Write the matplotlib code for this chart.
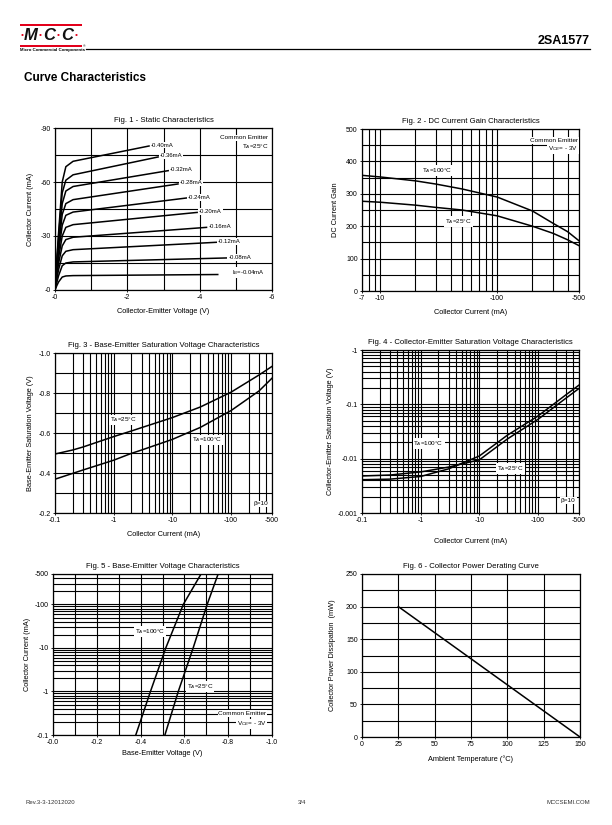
import numpy as np
import matplotlib.pyplot as plt
from matplotlib.patches import Rectangle
from matplotlib.ticker import FixedLocator, FixedFormatter, NullFormatter

plt.rcParams['font.family'] = ['Liberation Sans', 'DejaVu Sans']
plt.rcParams['mathtext.fontset'] = 'custom'
plt.rcParams['mathtext.rm'] = 'Liberation Sans'
plt.rcParams['mathtext.it'] = 'Liberation Sans:italic'
plt.rcParams['mathtext.bf'] = 'Liberation Sans:bold'

# ---- Fig. 1 - static characteristics (magnitudes, V and mA) ----
fig1_ib = ["-0.40mA", "-0.36mA", "-0.32mA", "-0.28mA", "-0.24mA",
           "-0.20mA", "-0.16mA", "-0.12mA", "-0.08mA", "I$_B$=-0.04mA"]
fig1_vce = [0, 0.05, 0.1, 0.2, 0.3, 0.5]
fig1_vend = [2.60, 2.85, 3.13, 3.40, 3.63, 3.93, 4.19, 4.46, 4.74, 4.50]
fig1_ic = [
    [0, 17, 32, 60, 68.5, 71.5, 80.0],
    [0, 16, 30, 54, 61.0, 64.0, 73.9],
    [0, 14, 27, 48, 55.0, 57.5, 66.3],
    [0, 12.5, 24, 42, 48.0, 50.2, 58.9],
    [0, 11, 21, 36, 41.5, 43.3, 51.1],
    [0, 9.5, 18, 30, 34.8, 36.3, 43.1],
    [0, 8, 15, 24.5, 28.0, 29.3, 34.8],
    [0, 6, 11.5, 19, 21.5, 22.4, 26.5],
    [0, 4.2, 8, 13.5, 15.0, 15.6, 17.8],
    [0, 2.4, 4.5, 7.2, 7.8, 8.0, 8.6],
]
fig1_label_xy = [(2.65, 80.5), (2.9, 74.5), (3.18, 67), (3.45, 59.5), (3.68, 51.5),
                 (3.98, 43.5), (4.24, 35.3), (4.51, 27), (4.79, 18.2), (4.9, 9.8)]

# ---- Fig. 2 - DC current gain ----
fig2_ic = [7, 10, 20, 30, 50, 100, 200, 300, 400, 500]
fig2_hfe_100 = [357, 352, 340, 330, 315, 290, 247, 209, 183, 155]
fig2_hfe_25 = [277, 274, 265, 258, 250, 232, 200, 178, 158, 140]

# ---- Fig. 3 - VBE(sat) ----
fig3_ic = [0.1, 0.2, 0.3, 1, 2, 3, 10, 30, 100, 300, 500]
fig3_v_25 = [0.495, 0.515, 0.530, 0.582, 0.610, 0.627, 0.677, 0.730, 0.804, 0.890, 0.933]
fig3_v_100 = [0.369, 0.398, 0.415, 0.464, 0.498, 0.515, 0.568, 0.628, 0.712, 0.810, 0.874]

# ---- Fig. 4 - VCE(sat) ----
fig4_ic = [0.1, 0.3, 1, 3, 5, 10, 30, 100, 300, 500]
fig4_v_100 = [0.0041, 0.0042, 0.0047, 0.0065, 0.0082, 0.0112, 0.027, 0.061, 0.15, 0.226]
fig4_v_25 = [0.0048, 0.0050, 0.0057, 0.0070, 0.0080, 0.0095, 0.023, 0.053, 0.13, 0.196]

# ---- Fig. 5 - VBE vs IC ----
fig5_ic = [0.1, 1, 10, 100, 500]
fig5_v_100 = [0.378, 0.445, 0.515, 0.595, 0.676]
fig5_v_25 = [0.511, 0.572, 0.640, 0.704, 0.754]

# ---- Fig. 6 - power derating ----
fig6_ta = [25, 150]
fig6_pd = [200, 0]

W, H = 612, 825
fig = plt.figure(figsize=(W / 100, H / 100), dpi=100)

RED = '#e3001b'
GRID = dict(color='black', linewidth=0.8)
LW = 1.1
TFS, LFS, KFS, AFS = 5.6, 5.3, 5.0, 4.6


def page_axes():
    ax = fig.add_axes([0, 0, 1, 1])
    ax.set_xlim(0, W)
    ax.set_ylim(H, 0)
    ax.axis('off')
    return ax


def panel(l, r, t, b):
    ax = fig.add_axes([l / W, 1 - b / H, (r - l) / W, (b - t) / H])
    for s in ax.spines.values():
        s.set_linewidth(0.9)
    ax.tick_params(which='major', length=1.5, width=0.6, labelsize=KFS, pad=1.5)
    ax.tick_params(which='minor', length=0)
    ax.set_axisbelow(True)
    return ax


def note(ax, x, y, s, ha='left', fs=AFS, **kw):
    ax.text(x, y, s, ha=ha, va='center', fontsize=fs, zorder=5,
            bbox=dict(fc='white', ec='none', pad=0.6), **kw)


def log_grid(axis, lo, hi):
    ticks = []
    d = 10.0 ** np.floor(np.log10(lo))
    while d < hi:
        for m in range(1, 10):
            v = m * d
            if lo < v < hi:
                ticks.append(v)
        d *= 10
    axis.set_minor_locator(FixedLocator(ticks))
    axis.set_minor_formatter(NullFormatter())


pg = page_axes()

# header
pg.add_patch(Rectangle((20, 23.5), 62, 2.2, color=RED, lw=0))
pg.add_patch(Rectangle((20, 44.5), 62, 2.2, color=RED, lw=0))
for i, ch in enumerate("MCC"):
    pg.text(31 + 18 * i, 35.5, ch, ha='center', va='center', fontsize=12,
            fontweight='bold', fontstyle='italic', color='#111111')
for i in range(4):
    pg.text(22.5 + 18 * i, 35.5, "\u2022", ha='center', va='center', fontsize=6,
            color=RED)
pg.text(20, 50.5, "Micro Commercial Components", fontsize=3.2, fontweight='bold',
        va='center', ha='left')
pg.text(83, 46, "\u00ae", fontsize=2.5, va='center')
pg.plot([86, 590], [48.5, 48.5], color='black', lw=0.9)
pg.text(590, 46.5, "2SA1577", ha='right', va='bottom', fontsize=9, fontweight='bold')
pg.text(24, 78, "Curve Characteristics", ha='left', va='center', fontsize=8.5,
        fontweight='bold')

# footer
pg.text(25, 803, "Rev.3-3-12012020", fontsize=4.3, va='center', color='#333333')
pg.text(302, 803, "3/4", fontsize=4.3, va='center', ha='center', color='#333333')
pg.text(590, 803, "MCCSEMI.COM", fontsize=4.3, va='center', ha='right', color='#333333')

# ---------- Fig. 1 ----------
ax = panel(55, 272, 128, 290)
for lab, vend, ic, (lx, ly) in zip(fig1_ib, fig1_vend, fig1_ic, fig1_label_xy):
    ax.plot(fig1_vce + [vend], ic, color='black', lw=LW, solid_joinstyle='round')
    note(ax, lx, ly, lab, fs=4.3)
ax.set_xlim(0, 6)
ax.set_ylim(0, 90)
ax.set_xticks([0, 2, 4, 6])
ax.set_xticklabels(["-0", "-2", "-4", "-6"])
ax.set_yticks([0, 30, 60, 90])
ax.set_yticklabels(["-0", "-30", "-60", "-90"])
ax.xaxis.set_minor_locator(FixedLocator([1, 3, 5]))
ax.yaxis.set_minor_locator(FixedLocator([15, 45, 75]))
ax.grid(which='both', **GRID)
note(ax, 5.9, 84.5, "Common Emitter", ha='right')
note(ax, 5.9, 79.5, "T$_A$=25\u00b0C", ha='right')
ax.set_title("Fig. 1 - Static Characteristics", fontsize=TFS, pad=4.5)
ax.set_xlabel("Collector-Emitter Voltage (V)", fontsize=LFS, labelpad=5)
ax.set_ylabel("Collector Current (mA)", fontsize=LFS, labelpad=5)

# ---------- Fig. 2 ----------
ax = panel(362, 579, 129, 291)
ax.set_xscale('log')
ax.plot(fig2_ic, fig2_hfe_100, color='black', lw=LW)
ax.plot(fig2_ic, fig2_hfe_25, color='black', lw=LW)
ax.set_xlim(7, 500)
ax.set_ylim(0, 500)
ax.xaxis.set_major_locator(FixedLocator([7, 10, 100, 500]))
ax.xaxis.set_major_formatter(FixedFormatter(["-7", "-10", "-100", "-500"]))
log_grid(ax.xaxis, 7, 500)
ax.set_yticks([0, 100, 200, 300, 400, 500])
ax.yaxis.set_minor_locator(FixedLocator([50, 150, 250, 350, 450]))
ax.grid(which='both', **GRID)
note(ax, 23, 372, "T$_A$=100\u00b0C")
note(ax, 36, 214, "T$_A$=25\u00b0C")
note(ax, 490, 465, "Common Emitter", ha='right')
note(ax, 490, 440, "V$_{CE}$= - 3V", ha='right')
ax.set_title("Fig. 2 - DC Current Gain Characteristics", fontsize=TFS, pad=4.5)
ax.set_xlabel("Collector Current (mA)", fontsize=LFS, labelpad=5)
ax.set_ylabel("DC Current Gain", fontsize=LFS, labelpad=5)

# ---------- Fig. 3 ----------
ax = panel(55, 272, 353, 513)
ax.set_xscale('log')
ax.plot(fig3_ic, fig3_v_25, color='black', lw=LW)
ax.plot(fig3_ic, fig3_v_100, color='black', lw=LW)
ax.set_xlim(0.1, 500)
ax.set_ylim(0.2, 1.0)
ax.xaxis.set_major_locator(FixedLocator([0.1, 1, 10, 100, 500]))
ax.xaxis.set_major_formatter(FixedFormatter(["-0.1", "-1", "-10", "-100", "-500"]))
log_grid(ax.xaxis, 0.1, 500)
ax.set_yticks([0.2, 0.4, 0.6, 0.8, 1.0])
ax.set_yticklabels(["-0.2", "-0.4", "-0.6", "-0.8", "-1.0"])
ax.yaxis.set_minor_locator(FixedLocator([0.3, 0.5, 0.7, 0.9]))
ax.grid(which='both', **GRID)
note(ax, 0.85, 0.665, "T$_A$=25\u00b0C")
note(ax, 22, 0.565, "T$_A$=100\u00b0C")
note(ax, 440, 0.245, "\u03b2=10", ha='right')
ax.set_title("Fig. 3 - Base-Emitter Saturation Voltage Characteristics",
             fontsize=TFS, pad=4.5)
ax.set_xlabel("Collector Current (mA)", fontsize=LFS, labelpad=5)
ax.set_ylabel("Base-Emitter Saturation Voltage (V)", fontsize=LFS, labelpad=3)

# ---------- Fig. 4 ----------
ax = panel(362, 579, 350, 513)
ax.set_xscale('log')
ax.set_yscale('log')
ax.plot(fig4_ic, fig4_v_100, color='black', lw=LW)
ax.plot(fig4_ic, fig4_v_25, color='black', lw=LW)
ax.set_xlim(0.1, 500)
ax.set_ylim(0.001, 1)
ax.xaxis.set_major_locator(FixedLocator([0.1, 1, 10, 100, 500]))
ax.xaxis.set_major_formatter(FixedFormatter(["-0.1", "-1", "-10", "-100", "-500"]))
log_grid(ax.xaxis, 0.1, 500)
ax.yaxis.set_major_locator(FixedLocator([0.001, 0.01, 0.1, 1]))
ax.yaxis.set_major_formatter(FixedFormatter(["-0.001", "-0.01", "-0.1", "-1"]))
log_grid(ax.yaxis, 0.001, 1)
ax.grid(which='both', **GRID)
note(ax, 0.75, 0.019, "T$_A$=100\u00b0C")
note(ax, 20, 0.0066, "T$_A$=25\u00b0C")
note(ax, 440, 0.0017, "\u03b2=10", ha='right')
ax.set_title("Fig. 4 - Collector-Emitter Saturation Voltage Characteristics",
             fontsize=TFS, pad=4.5)
ax.set_xlabel("Collector Current (mA)", fontsize=LFS, labelpad=10)
ax.set_ylabel("Collector-Emitter Saturation Voltage (V)", fontsize=LFS, labelpad=3)

# ---------- Fig. 5 ----------
ax = panel(53, 272, 574, 735)
ax.set_yscale('log')
ax.plot(fig5_v_100, fig5_ic, color='black', lw=LW)
ax.plot(fig5_v_25, fig5_ic, color='black', lw=LW)
ax.set_xlim(0, 1.0)
ax.set_ylim(0.1, 500)
ax.set_xticks([0, 0.2, 0.4, 0.6, 0.8, 1.0])
ax.set_xticklabels(["-0.0", "-0.2", "-0.4", "-0.6", "-0.8", "-1.0"])
ax.xaxis.set_minor_locator(FixedLocator([0.1, 0.3, 0.5, 0.7, 0.9]))
ax.yaxis.set_major_locator(FixedLocator([0.1, 1, 10, 100, 500]))
ax.yaxis.set_major_formatter(FixedFormatter(["-0.1", "-1", "-10", "-100", "-500"]))
log_grid(ax.yaxis, 0.1, 500)
ax.grid(which='both', **GRID)
note(ax, 0.375, 24, "T$_A$=100\u00b0C")
note(ax, 0.61, 1.3, "T$_A$=25\u00b0C")
note(ax, 0.975, 0.31, "Common Emitter", ha='right')
note(ax, 0.975, 0.18, "V$_{CE}$= - 3V", ha='right')
ax.set_title("Fig. 5 - Base-Emitter Voltage Characteristics", fontsize=TFS, pad=4.5)
ax.set_xlabel("Base-Emitter Voltage (V)", fontsize=LFS, labelpad=3)
ax.set_ylabel("Collector Current (mA)", fontsize=LFS, labelpad=3)

# ---------- Fig. 6 ----------
ax = panel(362, 580, 574, 737)
ax.plot(fig6_ta, fig6_pd, color='black', lw=LW)
ax.set_xlim(0, 150)
ax.set_ylim(0, 250)
ax.set_xticks([0, 25, 50, 75, 100, 125, 150])
ax.set_yticks([0, 50, 100, 150, 200, 250])
ax.yaxis.set_minor_locator(FixedLocator([25, 75, 125, 175, 225]))
ax.grid(which='both', **GRID)
ax.set_title("Fig. 6 - Collector Power Derating Curve", fontsize=TFS, pad=4.5)
ax.set_xlabel("Ambient Temperature (\u00b0C)", fontsize=LFS, labelpad=5)
ax.set_ylabel("Collector Power Dissipation  (mW)", fontsize=LFS, labelpad=7)

fig.savefig("out.png", dpi=100)
